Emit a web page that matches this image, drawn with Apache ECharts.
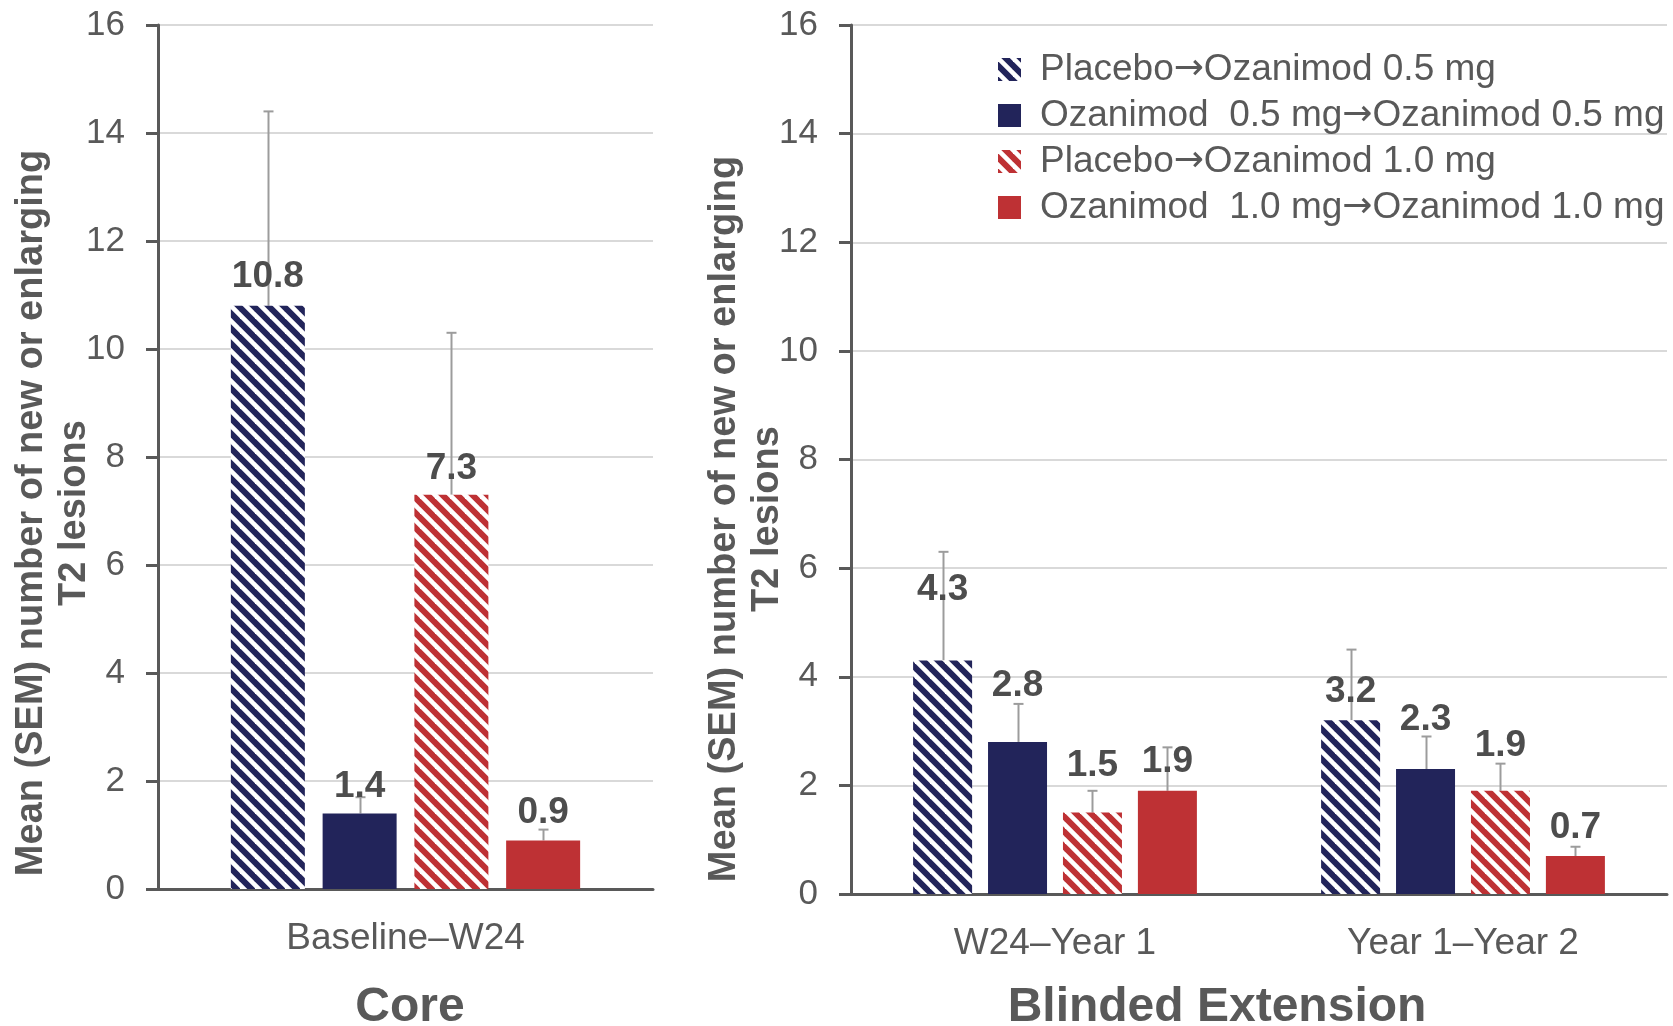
<!DOCTYPE html>
<html>
<head>
<meta charset="utf-8">
<script src="https://cdn.jsdelivr.net/npm/echarts@6/dist/echarts.min.js"></script>
<style>
  html, body { margin: 0; padding: 0; background: #ffffff; }
  #chart { width: 1673px; height: 1026px; }
</style>
</head>
<body>
<div id="chart"></div>
<script>
// ---- data ----
const seriesNames = [
  'Placebo→Ozanimod 0.5 mg',
  'Ozanimod  0.5 mg→Ozanimod 0.5 mg',
  'Placebo→Ozanimod 1.0 mg',
  'Ozanimod  1.0 mg→Ozanimod 1.0 mg'
];
const coreCategories = ['Baseline–W24'];
const extCategories = ['W24–Year 1', 'Year 1–Year 2'];

// mean number of new/enlarging T2 lesions, one array per treatment arm
const corePbo05 = [10.8];
const coreOza05 = [1.4];
const corePbo10 = [7.3];
const coreOza10 = [0.9];
const extPbo05 = [4.3, 3.2];
const extOza05 = [2.8, 2.3];
const extPbo10 = [1.5, 1.9];
const extOza10 = [1.9, 0.7];

// standard error of the mean, same layout
const coreSemPbo05 = [3.6];
const coreSemOza05 = [0.3];
const coreSemPbo10 = [3.0];
const coreSemOza10 = [0.2];
const extSemPbo05 = [2.0, 1.3];
const extSemOza05 = [0.7, 0.6];
const extSemPbo10 = [0.4, 0.5];
const extSemOza10 = [0.8, 0.17];

const yTickMin = 0, yTickMax = 16, yTickStep = 2;

// ---- layout / style ----
const FONT = '"Liberation Sans", Arial, Helvetica, sans-serif';
const TEXT = '#595959';
const NAVY = '#22245a';
const RED = '#be3134';

// how far each value label sits above its bar (px)
const coreLabelLift = [[11], [8], [8], [9]];
const extLabelLift = [[52, 10], [38, 31], [28, 27], [11, 10]];

function stripePattern(color) {
  const s = 15;
  const c = document.createElement('canvas');
  c.width = s; c.height = s;
  const g = c.getContext('2d');
  g.fillStyle = color;
  g.fillRect(0, 0, s, s);
  g.strokeStyle = '#ffffff';
  g.lineWidth = 4.6;
  for (let k = -1; k <= 1; k++) {
    g.beginPath();
    g.moveTo(-s, -s + k * s);
    g.lineTo(2 * s, 2 * s + k * s);
    g.stroke();
  }
  return { image: c, repeat: 'repeat' };
}
const fills = [stripePattern(NAVY), NAVY, stripePattern(RED), RED];

const coreMeans = [corePbo05, coreOza05, corePbo10, coreOza10];
const coreSems = [coreSemPbo05, coreSemOza05, coreSemPbo10, coreSemOza10];
const extMeans = [extPbo05, extOza05, extPbo10, extOza10];
const extSems = [extSemPbo05, extSemOza05, extSemPbo10, extSemOza10];

function barSeries(axisIdx, means, lifts, barWidth, gapRatio) {
  return means.map((vals, i) => ({
    type: 'bar',
    name: seriesNames[i],
    xAxisIndex: axisIdx,
    yAxisIndex: axisIdx,
    barWidth: barWidth,
    barGap: (gapRatio * 100) + '%',
    z: 3,
    itemStyle: { color: fills[i] },
    label: {
      show: true,
      position: 'top',
      fontSize: 37,
      fontWeight: 'bold',
      fontFamily: FONT,
      color: '#4d4d4d',
      formatter: p => Number(p.value).toFixed(1)
    },
    data: vals.map((v, j) => ({ value: v, label: { distance: lifts[i][j] } }))
  }));
}

function errorSeries(axisIdx, means, sems, barWidth, gapRatio) {
  const step = barWidth * (1 + gapRatio);
  const n = means.length;
  const data = [];
  means.forEach((vals, i) => vals.forEach((v, j) => data.push([j, v, v + sems[i][j], i])));
  return {
    type: 'custom',
    xAxisIndex: axisIdx,
    yAxisIndex: axisIdx,
    z: 1,
    silent: true,
    encode: { x: 0, y: [1, 2] },
    data: data,
    renderItem(params, api) {
      const base = api.coord([api.value(0), api.value(1)]);
      const top = api.coord([api.value(0), api.value(2)]);
      const x = Math.round(base[0] + (api.value(3) - (n - 1) / 2) * step) + 0.5;
      const st = { stroke: '#9c9c9c', lineWidth: 2 };
      return {
        type: 'group',
        children: [
          { type: 'line', shape: { x1: x, y1: base[1], x2: x, y2: top[1] }, style: st },
          { type: 'line', shape: { x1: x - 5, y1: top[1], x2: x + 5, y2: top[1] }, style: st }
        ]
      };
    }
  };
}

function yAxisCfg(idx) {
  return {
    type: 'value',
    gridIndex: idx,
    min: yTickMin,
    max: yTickMax,
    interval: yTickStep,
    axisLine: { show: true, lineStyle: { color: TEXT, width: 3 } },
    axisTick: { show: true, length: 12, lineStyle: { color: TEXT, width: 3 } },
    axisLabel: { fontSize: 35, color: TEXT, fontFamily: FONT, margin: 33 },
    splitLine: { lineStyle: { color: '#d9d9d9', width: 2 } }
  };
}

function xAxisCfg(idx, cats) {
  return {
    type: 'category',
    gridIndex: idx,
    data: cats,
    axisLine: { show: true, lineStyle: { color: TEXT, width: 3 } },
    axisTick: { show: false },
    axisLabel: { fontSize: 37, color: TEXT, fontFamily: FONT, margin: 31 }
  };
}

const yTitle = 'Mean (SEM) number of new or enlarging\nT2 lesions';

const option = {
  animation: false,
  backgroundColor: '#ffffff',
  grid: [
    { left: 158, right: 1020, top: 25, bottom: 137 },
    { left: 851, right: 6, top: 25, bottom: 132 }
  ],
  xAxis: [xAxisCfg(0, coreCategories), xAxisCfg(1, extCategories)],
  yAxis: [yAxisCfg(0), yAxisCfg(1)],
  legend: {
    orient: 'vertical',
    left: 993,
    top: 46,
    itemWidth: 23,
    itemHeight: 23,
    itemGap: 9,
    icon: 'rect',
    data: seriesNames,
    formatter: name => name.replace('→', '{arr|→}'),
    textStyle: {
      fontSize: 37, color: TEXT, fontFamily: FONT, lineHeight: 36, padding: [0, 0, 0, 14],
      rich: {
        arr: { fontFamily: '"DejaVu Sans"', fontSize: 36, color: TEXT, lineHeight: 36 }
      }
    }
  },
  graphic: [
    {
      type: 'text', x: 53, y: 513, rotation: Math.PI / 2,
      style: { text: yTitle, align: 'center', verticalAlign: 'middle', fontSize: 38, fontWeight: 'bold',
               fontFamily: FONT, lineHeight: 43, fill: TEXT }
    },
    {
      type: 'text', x: 746, y: 519, rotation: Math.PI / 2,
      style: { text: yTitle, align: 'center', verticalAlign: 'middle', fontSize: 38, fontWeight: 'bold',
               fontFamily: FONT, lineHeight: 43, fill: TEXT }
    },
    {
      type: 'text', x: 410, y: 1008,
      style: { text: 'Core', align: 'center', verticalAlign: 'middle', fontSize: 48, fontWeight: 'bold',
               fontFamily: FONT, fill: TEXT }
    },
    {
      type: 'text', x: 1217, y: 1008,
      style: { text: 'Blinded Extension', align: 'center', verticalAlign: 'middle', fontSize: 48, fontWeight: 'bold',
               fontFamily: FONT, fill: TEXT }
    }
  ],
  series: [
    errorSeries(0, coreMeans, coreSems, 74, 0.24),
    errorSeries(1, extMeans, extSems, 59, 0.27),
    ...barSeries(0, coreMeans, coreLabelLift, 74, 0.24),
    ...barSeries(1, extMeans, extLabelLift, 59, 0.27)
  ]
};

const chart = echarts.init(document.getElementById('chart'));
chart.setOption(option);
</script>
</body>
</html>
